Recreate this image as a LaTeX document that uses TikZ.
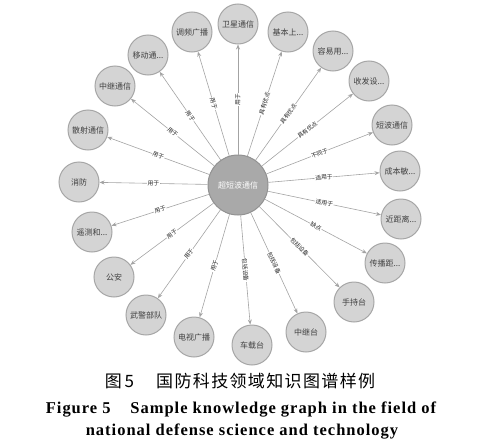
\documentclass[tikz,border=0pt]{standalone}
\usepackage{fontspec}
\setmainfont{Liberation Serif}
\newfontfamily\cjk{Noto Sans CJK SC}
\usetikzlibrary{arrows.meta}

\definecolor{entfill}{HTML}{D4D4D4}
\definecolor{entline}{HTML}{A6A6A6}
\definecolor{corefill}{HTML}{A9A9A9}
\definecolor{coreline}{HTML}{919191}
\definecolor{relline}{HTML}{A3A3A3}

\tikzset{
	ent/.style={circle, draw=entline, fill=entfill, line width=1pt, minimum size=40pt, inner sep=0pt, font=\cjk\fontsize{8}{9}\selectfont, text=black!75},
	core/.style={circle, draw=coreline, fill=corefill, line width=1pt, minimum size=60pt, inner sep=0pt, font=\cjk\fontsize{8}{9}\selectfont, text=white},
	rel/.style={draw=relline, line width=0.6pt, -{Stealth[length=5pt,width=4pt]}},
	lab/.style={sloped, fill=white, inner sep=0.6pt, font=\cjk\fontsize{5.8}{6.5}\selectfont, text=black!85},
	capcn/.style={font=\cjk\fontsize{17}{19}\selectfont\addfontfeatures{LetterSpace=8}},
	capen/.style={font=\bfseries\fontsize{16.5}{19}\selectfont\addfontfeatures{LetterSpace=6}}
}

\begin{document}
\begin{tikzpicture}[x=1pt, y=-1pt]
		\useasboundingbox ( 0, 0 ) rectangle ( 479, 447 );

		% центр
		\node [core] (c) at ( 238, 185 ) {超短波通信};

		% сущности
		\node [ent] (n1)  at ( 238, 24 )  {卫星通信};
		\node [ent] (n2)  at ( 288, 32 )  {基本上...};
		\node [ent] (n3)  at ( 333, 51 )  {容易用...};
		\node [ent] (n4)  at ( 369, 81 )  {收发设...};
		\node [ent] (n5)  at ( 392, 125 ) {短波通信};
		\node [ent] (n6)  at ( 400, 171 ) {成本敏...};
		\node [ent] (n7)  at ( 401, 219 ) {近距离...};
		\node [ent] (n8)  at ( 385, 263 ) {传播距...};
		\node [ent] (n9)  at ( 354, 302 ) {手持台};
		\node [ent] (n10) at ( 306, 332 ) {中继台};
		\node [ent] (n11) at ( 252, 345 ) {车载台};
		\node [ent] (n12) at ( 194, 337 ) {电视广播};
		\node [ent] (n13) at ( 146, 315 ) {武警部队};
		\node [ent] (n14) at ( 114, 277 ) {公安};
		\node [ent] (n15) at ( 92, 232 )  {遥测和...};
		\node [ent] (n16) at ( 79, 182 )  {消防};
		\node [ent] (n17) at ( 88, 130 )  {散射通信};
		\node [ent] (n18) at ( 115, 86 )  {中继通信};
		\node [ent] (n19) at ( 148, 55 )  {移动通...};
		\node [ent] (n20) at ( 192, 32 )  {调频广播};

		% связи
		\draw [rel] (c) -- node [lab] {用于} (n1);
		\draw [rel] (c) -- node [lab] {具有优点} (n2);
		\draw [rel] (c) -- node [lab] {具有优点} (n3);
		\draw [rel] (c) -- node [lab] {具有优点} (n4);
		\draw [rel] (c) -- node [lab] {不同于} (n5);
		\draw [rel] (c) -- node [lab] {适用于} (n6);
		\draw [rel] (c) -- node [lab] {适用于} (n7);
		\draw [rel] (c) -- node [lab] {缺点} (n8);
		\draw [rel] (c) -- node [lab] {包括设备} (n9);
		\draw [rel] (c) -- node [lab] {包括设备} (n10);
		\draw [rel] (c) -- node [lab] {包括设备} (n11);
		\draw [rel] (c) -- node [lab] {用于} (n12);
		\draw [rel] (c) -- node [lab] {用于} (n13);
		\draw [rel] (c) -- node [lab] {用于} (n14);
		\draw [rel] (c) -- node [lab] {用于} (n15);
		\draw [rel] (c) -- node [lab] {用于} (n16);
		\draw [rel] (c) -- node [lab] {用于} (n17);
		\draw [rel] (c) -- node [lab] {用于} (n18);
		\draw [rel] (c) -- node [lab] {用于} (n19);
		\draw [rel] (c) -- node [lab] {用于} (n20);

		% подпись
		\node [capcn] (cap1) at ( 240, 381 ) {图\,5\hspace{1.3em}国防科技领域知识图谱样例};
		\node [capen] (cap2) at ( 241, 410 ) {Figure 5\hspace{1.2em}Sample knowledge graph in the field of};
		\node [capen] (cap3) at ( 242, 432 ) {national defense science and technology};
	\end{tikzpicture}
\end{document}
